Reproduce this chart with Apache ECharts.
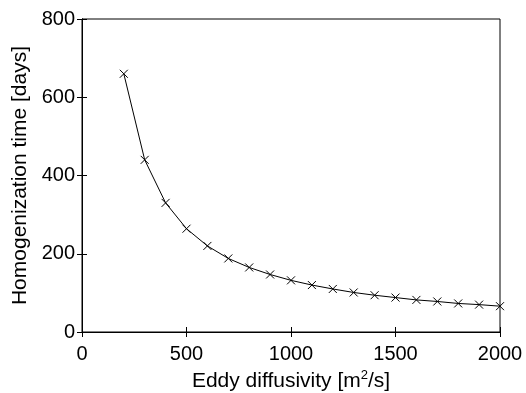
<!DOCTYPE html>
<html>
<head>
<meta charset="utf-8">
<script src="https://cdn.jsdelivr.net/npm/echarts@6/dist/echarts.min.js"></script>
<style>
html, body { margin: 0; padding: 0; background: #fff; }
#main { width: 526px; height: 393px; }
</style>
</head>
<body>
<div id="main"></div>
<script>
var diffusivity = [200, 300, 400, 500, 600, 700, 800, 900, 1000, 1100, 1200, 1300, 1400, 1500, 1600, 1700, 1800, 1900, 2000];
var homogTime = [660, 440, 330, 264, 220, 188, 165, 147, 132, 120, 110, 101, 94, 88, 82, 78, 73, 70, 66];
var xTicks = [0, 500, 1000, 1500, 2000];
var yTicks = [0, 200, 400, 600, 800];

var myChart = echarts.init(document.getElementById("main"));
var font = 'Liberation Sans, Arial, sans-serif';
var lineStyle = { color: '#000', width: 1 };
var plainNum = function (v) { return String(v); };

myChart.setOption({
    animation: false,
    grid: {
        left: 82,
        right: 26,
        top: 19,
        bottom: 61,
        outerBoundsMode: 'none',
        show: true,
        borderColor: '#000',
        borderWidth: 1
    },
    xAxis: [{
        type: 'value',
        min: xTicks[0],
        max: xTicks[xTicks.length - 1],
        interval: 500,
        name: 'Eddy diffusivity [m{sup|2}/s]',
        nameLocation: 'middle',
        nameGap: 37,
        nameTextStyle: {
            fontFamily: font, fontSize: 21, color: '#000',
            rich: { sup: { fontSize: 13, verticalAlign: 'top', padding: [0, 0, 12, 0], fontFamily: font, color: '#000' } }
        },
        axisLine: { lineStyle: lineStyle },
        axisTick: { inside: true, length: 5, lineStyle: lineStyle },
        axisLabel: { fontFamily: font, fontSize: 20, color: '#000', margin: 12, formatter: plainNum },
        splitLine: { show: false }
    }, {
        type: 'value',
        position: 'top',
        min: xTicks[0],
        max: xTicks[xTicks.length - 1],
        interval: 500,
        axisLine: { lineStyle: lineStyle },
        axisTick: { inside: true, length: 5, lineStyle: lineStyle },
        axisLabel: { show: false },
        splitLine: { show: false }
    }],
    yAxis: [{
        type: 'value',
        min: yTicks[0],
        max: yTicks[yTicks.length - 1],
        interval: 200,
        name: 'Homogenization time [days]',
        nameLocation: 'middle',
        nameGap: 50,
        nameTextStyle: { fontFamily: font, fontSize: 21, color: '#000' },
        axisLine: { lineStyle: lineStyle },
        axisTick: { inside: true, length: 5, lineStyle: lineStyle },
        axisLabel: { fontFamily: font, fontSize: 20, color: '#000', margin: 7, formatter: plainNum },
        splitLine: { show: false }
    }, {
        type: 'value',
        position: 'right',
        min: yTicks[0],
        max: yTicks[yTicks.length - 1],
        interval: 200,
        axisLine: { show: true, lineStyle: lineStyle },
        axisTick: { show: true, inside: true, length: 5, lineStyle: lineStyle },
        axisLabel: { show: false },
        splitLine: { show: false }
    }],
    series: [{
        type: 'line',
        data: diffusivity.map(function (d, i) { return [d, homogTime[i]]; }),
        symbol: 'path://M0,0L10,10M10,0L0,10',
        symbolSize: 8,
        showAllSymbol: true,
        lineStyle: { color: '#000', width: 1 },
        itemStyle: { color: 'none', borderColor: '#000', borderWidth: 1 }
    }]
});
</script>
</body>
</html>
